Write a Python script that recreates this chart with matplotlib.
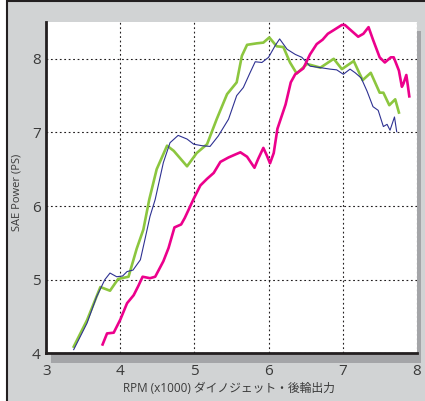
import matplotlib
matplotlib.use("Agg")
import matplotlib.pyplot as plt
from matplotlib.patches import Rectangle

plt.rcParams['font.family'] = ['Open Sans', 'Noto Sans CJK JP', 'DejaVu Sans']

# green run
green_rpm = [3.37, 3.55, 3.73, 3.86, 3.97, 4.11, 4.22, 4.31, 4.39, 4.49, 4.63, 4.72,
             4.90, 5.03, 5.17, 5.30, 5.44, 5.57, 5.64, 5.71, 5.84, 5.93, 6.01, 6.11,
             6.20, 6.29, 6.38, 6.52, 6.70, 6.88, 6.99, 7.15, 7.27, 7.38, 7.50, 7.55,
             7.63, 7.71, 7.76]
green_ps = [4.09, 4.45, 4.90, 4.85, 5.01, 5.04, 5.42, 5.68, 6.09, 6.50, 6.82, 6.75,
            6.54, 6.72, 6.84, 7.18, 7.52, 7.68, 8.04, 8.19, 8.21, 8.22, 8.29, 8.17,
            8.16, 7.95, 7.80, 7.93, 7.88, 8.00, 7.86, 7.97, 7.71, 7.81, 7.54, 7.54,
            7.37, 7.45, 7.27]

# blue run
blue_rpm = [3.37, 3.55, 3.68, 3.79, 3.86, 3.95, 4.03, 4.09, 4.17, 4.27, 4.33, 4.40,
            4.47, 4.58, 4.67, 4.78, 4.90, 4.99, 5.10, 5.21, 5.32, 5.46, 5.57, 5.66,
            5.75, 5.82, 5.91, 6.00, 6.09, 6.15, 6.25, 6.36, 6.45, 6.56, 6.70, 6.83,
            6.92, 7.01, 7.10, 7.17, 7.25, 7.33, 7.41, 7.48, 7.55, 7.60, 7.64, 7.70,
            7.73]
blue_ps = [4.05, 4.41, 4.77, 5.00, 5.09, 5.04, 5.05, 5.11, 5.13, 5.27, 5.54, 5.86,
           6.09, 6.59, 6.86, 6.96, 6.91, 6.84, 6.82, 6.81, 6.95, 7.18, 7.50, 7.61,
           7.81, 7.96, 7.95, 8.02, 8.18, 8.27, 8.13, 8.06, 8.02, 7.90, 7.88, 7.86,
           7.85, 7.79, 7.86, 7.81, 7.74, 7.56, 7.35, 7.30, 7.08, 7.11, 7.03, 7.21,
           7.01]

# magenta run
pink_rpm = [3.76, 3.82, 3.91, 4.00, 4.09, 4.18, 4.24, 4.30, 4.40, 4.47, 4.58, 4.65,
            4.73, 4.82, 4.87, 4.99, 5.08, 5.17, 5.26, 5.35, 5.46, 5.55, 5.62, 5.71,
            5.81, 5.86, 5.93, 5.98, 6.02, 6.07, 6.12, 6.23, 6.30, 6.36, 6.47, 6.56,
            6.65, 6.73, 6.80, 6.88, 6.99, 7.03, 7.12, 7.21, 7.28, 7.35, 7.41, 7.50,
            7.57, 7.65, 7.69, 7.76, 7.80, 7.82, 7.86, 7.88, 7.90]
pink_ps = [4.12, 4.27, 4.28, 4.46, 4.68, 4.79, 4.91, 5.04, 5.02, 5.04, 5.25, 5.43,
           5.71, 5.75, 5.84, 6.10, 6.28, 6.37, 6.45, 6.60, 6.66, 6.70, 6.73, 6.67,
           6.52, 6.64, 6.79, 6.68, 6.58, 6.72, 7.05, 7.38, 7.68, 7.79, 7.87, 8.06,
           8.20, 8.26, 8.34, 8.39, 8.46, 8.46, 8.38, 8.30, 8.34, 8.43, 8.26, 8.02,
           7.95, 8.02, 8.02, 7.84, 7.62, 7.66, 7.78, 7.64, 7.49]

x_ticks = [3, 4, 5, 6, 7, 8]
y_ticks = [4, 5, 6, 7, 8]

W, H = 425, 401
fig = plt.figure(figsize=(W / 100, H / 100), dpi=100, facecolor='white')

# grey panel with black frame
fig.patches.append(Rectangle((6.5 / W, -0.05), 1.1, (H - 1) / H + 0.05,
                             transform=fig.transFigure, facecolor='#d1d3d4',
                             edgecolor='#231f20', linewidth=1.5, zorder=0))
# drop shadow of plot area
fig.patches.append(Rectangle((51 / W, (H - 362.5) / H), (420.7 - 51) / W,
                             (362.5 - 31) / H, transform=fig.transFigure,
                             facecolor='#a4a5a8', edgecolor='none', zorder=1))

ax = fig.add_axes([46.3 / W, (H - 353.3) / H, (416.7 - 46.3) / W, (353.3 - 22) / H])
ax.set_facecolor('white')
ax.set_zorder(2)

ax.plot(green_rpm, green_ps, color='#8cc63f', linewidth=1.9, solid_joinstyle='round', zorder=3)
ax.plot(blue_rpm, blue_ps, color='#2e3192', linewidth=0.8, solid_joinstyle='round', zorder=4)
ax.plot(pink_rpm, pink_ps, color='#ec008c', linewidth=1.9, solid_joinstyle='round', zorder=5)

ax.set_xlim(3, 8)
ax.set_ylim(4, 8.5)
ax.set_xticks(x_ticks)
ax.set_yticks(y_ticks)
ax.grid(True, color='#231f20', linewidth=0.8, linestyle=(0, (1.6, 2.4)))
ax.tick_params(length=0, labelsize=11, labelcolor='#3a3a3a')
ax.tick_params(axis='x', pad=8)
ax.tick_params(axis='y', pad=4)

for side in ('top', 'right'):
    ax.spines[side].set_visible(False)
for side in ('left', 'bottom'):
    ax.spines[side].set_color('#231f20')
    ax.spines[side].set_linewidth(2.0)

fig.text(229 / W, 1 - 389 / H, 'RPM (x1000) ダイノジェット・後輪出力',
         ha='center', va='center', fontsize=8.5, color='#3a3a3a')
fig.text(16.7 / W, 1 - 192 / H, 'SAE Power (PS)', rotation=90,
         ha='center', va='center', fontsize=8, color='#3a3a3a')

fig.savefig('out.png', dpi=100, facecolor=fig.get_facecolor())
